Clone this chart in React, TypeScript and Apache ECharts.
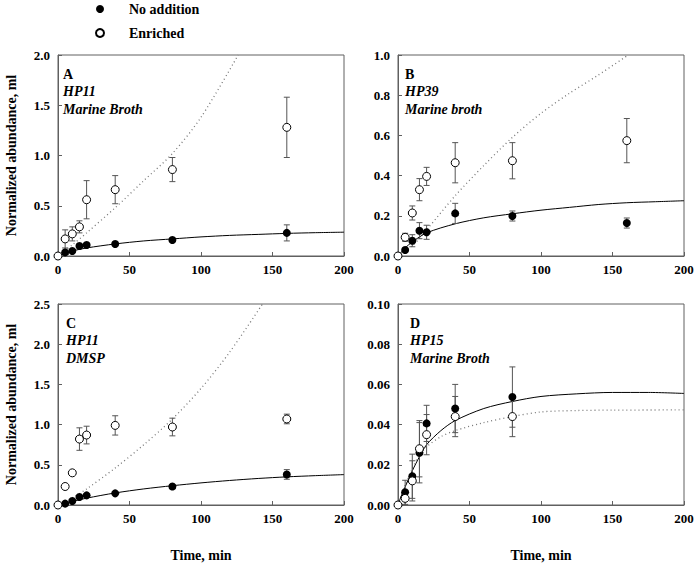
import React, { useEffect, useRef } from "react";
import * as echarts from "echarts";

// Sampling times (min)
const T = [5, 10, 15, 20, 40, 80, 160];
const T0 = [0, 5, 10, 15, 20, 40, 80, 160];
const TD = [5, 10, 15, 20, 40, 80];
const TD0 = [0, 5, 10, 15, 20, 40, 80];
const xTicks = [0, 50, 100, 150, 200];

// Panel A: HP11, Marine Broth
const aFilled = [0.036, 0.05, 0.1, 0.11, 0.12, 0.16, 0.23];
const aFilledErr = [0.02, 0.015, 0.02, 0.02, 0.02, 0.02, 0.08];
const aOpen = [0, 0.17, 0.22, 0.29, 0.56, 0.66, 0.86, 1.28];
const aOpenErr = [0, 0.09, 0.07, 0.06, 0.19, 0.14, 0.12, 0.3];
const aSolidX = [0, 5, 10, 20, 40, 60, 80, 100, 120, 140, 160, 180, 200];
const aSolidY = [0, 0.03, 0.05, 0.08, 0.12, 0.15, 0.17, 0.19, 0.205, 0.215, 0.225, 0.232, 0.237];
const aDotX = [0, 10, 20, 40, 60, 80, 100, 126];
const aDotY = [0, 0.11, 0.23, 0.48, 0.75, 1.02, 1.38, 2.0];

// Panel B: HP39, Marine broth
const bFilled = [0.03, 0.076, 0.126, 0.118, 0.212, 0.199, 0.164];
const bFilledErr = [0.01, 0.03, 0.04, 0.035, 0.05, 0.025, 0.025];
const bOpen = [0, 0.093, 0.214, 0.33, 0.396, 0.464, 0.474, 0.574];
const bOpenErr = [0, 0.02, 0.035, 0.055, 0.045, 0.1, 0.09, 0.11];
const bSolidX = [0, 5, 10, 20, 40, 60, 80, 100, 120, 140, 160, 180, 200];
const bSolidY = [0, 0.04, 0.07, 0.115, 0.16, 0.19, 0.21, 0.228, 0.242, 0.256, 0.265, 0.27, 0.275];
const bDotX = [0, 10, 20, 40, 60, 80, 100, 120, 140, 161];
const bDotY = [0, 0.05, 0.13, 0.3, 0.45, 0.59, 0.71, 0.81, 0.9, 1.0];

// Panel C: HP11, DMSP
const cFilled = [0.017, 0.05, 0.1, 0.12, 0.145, 0.23, 0.38];
const cFilledErr = [0.01, 0.01, 0.01, 0.01, 0.01, 0.02, 0.06];
const cOpen = [0, 0.23, 0.4, 0.82, 0.87, 0.99, 0.97, 1.07];
const cOpenErr = [0, 0.02, 0.02, 0.14, 0.11, 0.12, 0.11, 0.06];
const cSolidX = [0, 5, 10, 20, 40, 60, 80, 100, 120, 140, 160, 180, 200];
const cSolidY = [0, 0.025, 0.045, 0.085, 0.15, 0.2, 0.24, 0.275, 0.305, 0.33, 0.35, 0.365, 0.378];
const cDotX = [0, 10, 20, 40, 60, 80, 100, 120, 143];
const cDotY = [0, 0.09, 0.2, 0.46, 0.75, 1.07, 1.45, 1.9, 2.5];

// Panel D: HP15, Marine Broth
const dFilled = [0.0063, 0.0143, 0.026, 0.0406, 0.048, 0.0537];
const dFilledErr = [0.006, 0.011, 0.015, 0.009, 0.012, 0.015];
const dOpen = [0, 0.0033, 0.012, 0.028, 0.035, 0.044, 0.044];
const dOpenErr = [0, 0.004, 0.01, 0.014, 0.01, 0.01, 0.01];
const dSolidX = [0, 2, 5, 10, 15, 20, 30, 40, 60, 80, 100, 125, 150, 175, 200];
const dSolidY = [0, 0.004, 0.009, 0.017, 0.024, 0.03, 0.037, 0.042, 0.048, 0.0515, 0.054, 0.0553, 0.056, 0.056, 0.0555];
const dDotX = [0, 5, 10, 15, 20, 30, 40, 60, 80, 100, 125, 150, 200];
const dDotY = [0, 0.01, 0.018, 0.025, 0.029, 0.034, 0.037, 0.041, 0.044, 0.0463, 0.047, 0.0472, 0.0473];

const FONT = "'Liberation Serif', 'Times New Roman', serif";
const AXIS_GREY = "#606060";

const zip = (xs: number[], ys: number[]) => xs.map((x, i) => [x, ys[i]]);

function errSeries(gi: number, xs: number[], ys: number[], es: number[]) {
  return {
    type: "custom",
    xAxisIndex: gi,
    yAxisIndex: gi,
    z: 2,
    silent: true,
    clip: true,
    data: xs.map((x, i) => [x, ys[i], es[i]]),
    renderItem: (params: any, api: any) => {
      const x = api.value(0);
      const y = api.value(1);
      const e = api.value(2);
      if (!e) return { type: "group", children: [] };
      const top = api.coord([x, y + e]);
      const bot = api.coord([x, y - e]);
      const w = 3;
      const style = { stroke: "#555", lineWidth: 1 };
      return {
        type: "group",
        children: [
          { type: "line", shape: { x1: top[0], y1: top[1], x2: bot[0], y2: bot[1] }, style },
          { type: "line", shape: { x1: top[0] - w, y1: top[1], x2: top[0] + w, y2: top[1] }, style },
          { type: "line", shape: { x1: bot[0] - w, y1: bot[1], x2: bot[0] + w, y2: bot[1] }, style },
        ],
      };
    },
  };
}

const panels = [
  {
    letter: "A", line2: "HP11", line3: "Marine Broth", left: 58, top: 55, textDx: 5,
    ymax: 2.0, yint: 0.5, dec: 1, yName: true, xName: false,
    fx: T, fy: aFilled, fe: aFilledErr, ox: T0, oy: aOpen, oe: aOpenErr,
    sx: aSolidX, sy: aSolidY, dx: aDotX, dy: aDotY,
  },
  {
    letter: "B", line2: "HP39", line3: "Marine broth", left: 398, top: 55, textDx: 7,
    ymax: 1.0, yint: 0.2, dec: 1, yName: false, xName: false,
    fx: T, fy: bFilled, fe: bFilledErr, ox: T0, oy: bOpen, oe: bOpenErr,
    sx: bSolidX, sy: bSolidY, dx: bDotX, dy: bDotY,
  },
  {
    letter: "C", line2: "HP11", line3: "DMSP", left: 58, top: 304, textDx: 8,
    ymax: 2.5, yint: 0.5, dec: 1, yName: true, xName: true,
    fx: T, fy: cFilled, fe: cFilledErr, ox: T0, oy: cOpen, oe: cOpenErr,
    sx: cSolidX, sy: cSolidY, dx: cDotX, dy: cDotY,
  },
  {
    letter: "D", line2: "HP15", line3: "Marine Broth", left: 398, top: 304, textDx: 12,
    ymax: 0.1, yint: 0.02, dec: 2, yName: false, xName: true,
    fx: TD, fy: dFilled, fe: dFilledErr, ox: TD0, oy: dOpen, oe: dOpenErr,
    sx: dSolidX, sy: dSolidY, dx: dDotX, dy: dDotY,
  },
];

const W = 286;
const H = 201;

function buildOption() {
  const grid: any[] = [];
  const xAxis: any[] = [];
  const yAxis: any[] = [];
  const series: any[] = [];
  const graphic: any[] = [];

  panels.forEach((p, gi) => {
    grid.push({
      left: p.left, top: p.top, width: W, height: H,
      show: true, borderColor: AXIS_GREY, borderWidth: 1, backgroundColor: "transparent",
    });
    xAxis.push({
      type: "value", gridIndex: gi, min: xTicks[0], max: xTicks[xTicks.length - 1], interval: 50,
      axisLine: { show: true, lineStyle: { color: AXIS_GREY, width: 1 } },
      axisTick: { show: true, inside: true, length: 4, lineStyle: { color: AXIS_GREY } },
      splitLine: { show: false },
      axisLabel: { color: "#000", fontFamily: FONT, fontWeight: "bold", fontSize: 13, margin: 7 },
      name: p.xName ? "Time, min" : "",
      nameLocation: "middle",
      nameGap: 43,
      nameTextStyle: { color: "#000", fontFamily: FONT, fontWeight: "bold", fontSize: 14 },
    });
    yAxis.push({
      type: "value", gridIndex: gi, min: 0, max: p.ymax, interval: p.yint,
      axisLine: { show: true, lineStyle: { color: AXIS_GREY, width: 1 } },
      axisTick: { show: true, inside: true, length: 4, lineStyle: { color: AXIS_GREY } },
      splitLine: { show: false },
      axisLabel: {
        color: "#000", fontFamily: FONT, fontWeight: "bold", fontSize: 13, margin: 8,
        formatter: (v: number) => v.toFixed(p.dec),
      },
      name: p.yName ? "Normalized abundance, ml" : "",
      nameLocation: "middle",
      nameGap: 40,
      nameTextStyle: { color: "#000", fontFamily: FONT, fontWeight: "bold", fontSize: 14 },
    });

    series.push({
      type: "line", name: "fit-enriched-" + p.letter, xAxisIndex: gi, yAxisIndex: gi,
      data: zip(p.dx, p.dy), showSymbol: false, smooth: 0.3, silent: true, z: 1,
      lineStyle: { color: "#777", width: 1.3, type: [1, 3] },
    });
    series.push({
      type: "line", name: "fit-none-" + p.letter, xAxisIndex: gi, yAxisIndex: gi,
      data: zip(p.sx, p.sy), showSymbol: false, smooth: 0.3, silent: true, z: 1,
      lineStyle: { color: "#000", width: 1 },
    });
    series.push(errSeries(gi, p.fx, p.fy, p.fe));
    series.push(errSeries(gi, p.ox, p.oy, p.oe));
    series.push({
      type: "scatter", name: "No addition", xAxisIndex: gi, yAxisIndex: gi,
      data: zip(p.fx, p.fy), symbol: "circle", symbolSize: 8, z: 3,
      itemStyle: { color: "#000", opacity: 1 },
    });
    series.push({
      type: "scatter", name: "Enriched", xAxisIndex: gi, yAxisIndex: gi,
      data: zip(p.ox, p.oy), symbol: "circle", symbolSize: 8, z: 4,
      itemStyle: { color: "#fff", borderColor: "#000", borderWidth: 1, opacity: 1 },
    });

    const tx = p.left + p.textDx;
    graphic.push({
      type: "text", left: tx, top: p.top + 12,
      style: { text: p.letter, fill: "#000", font: `bold 14px ${FONT}` },
    });
    graphic.push({
      type: "text", left: tx, top: p.top + 29.5,
      style: { text: p.line2, fill: "#000", font: `italic bold 14px ${FONT}` },
    });
    graphic.push({
      type: "text", left: tx, top: p.top + 47,
      style: { text: p.line3, fill: "#000", font: `italic bold 14px ${FONT}` },
    });
  });

  return {
    animation: false,
    backgroundColor: "#fff",
    textStyle: { fontFamily: FONT },
    legend: {
      orient: "vertical",
      left: 90,
      top: -3,
      itemWidth: 8,
      itemHeight: 8,
      itemGap: 10,
      selectedMode: false,
      data: [
        { name: "No addition", icon: "circle" },
        { name: "Enriched", icon: "circle" },
      ],
      textStyle: {
        color: "#000", fontFamily: FONT, fontWeight: "bold", fontSize: 14,
        padding: [0, 0, 0, 20],
      },
    },
    grid, xAxis, yAxis, series, graphic,
  };
}

export default function App() {
  const ref = useRef<HTMLDivElement>(null);
  useEffect(() => {
    if (!ref.current) return;
    const chart = echarts.init(ref.current, undefined, { renderer: "svg" });
    chart.setOption(buildOption() as any);
    return () => chart.dispose();
  }, []);
  return (
    <div
      ref={ref}
      style={{ position: "absolute", left: 0, top: 0, width: 697, height: 564, background: "#fff" }}
    />
  );
}
